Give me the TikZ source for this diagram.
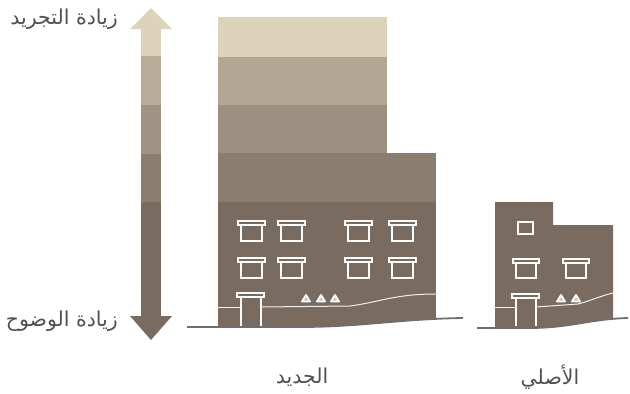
\documentclass[tikz,border=0pt]{standalone}
\usepackage{fontspec}
\usepackage{xcolor}
\setmainfont{DejaVu Sans}
\newfontfamily\arabicfont[Script=Arabic]{DejaVu Sans}
\TeXXeTstate=1
\usetikzlibrary{positioning}

\definecolor{levelA}{HTML}{DDD2BA}
\definecolor{levelB}{HTML}{B3A794}
\definecolor{levelC}{HTML}{9E9080}
\definecolor{levelD}{HTML}{8B7D70}
\definecolor{levelE}{HTML}{7A6B60}
\definecolor{groundgray}{HTML}{6E6E70}
\definecolor{labelgray}{HTML}{505050}

\begin{document}
\begin{tikzpicture}[
        x=1pt, y=-1pt,
        lbl/.style={font=\arabicfont\fontsize{20.5}{24}\selectfont, text=labelgray, inner sep=0pt},
        trim/.style={draw=white, line width=1.5pt},
        street/.style={draw=white!90!levelE, line width=1pt},
        ground/.style={draw=groundgray, line width=1.8pt},
        bump/.style={draw=white, fill=white!60!levelE, line width=1.8pt, line join=round}
    ]
    \useasboundingbox (0,0) rectangle (630,394);

    % Scale arrow
    \fill[levelA] (130,29) -- (151,8) -- (172,29) -- cycle;
    \fill[levelA] (141,29) rectangle (161,56);
    \fill[levelB!85!levelA] (141,56) rectangle (161,105);
    \fill[levelC!85!levelB] (141,105) rectangle (161,154);
    \fill[levelD] (141,154) rectangle (161,202);
    \fill[levelE] (141,202) rectangle (161,316);
    \fill[levelE] (130,316) -- (151,340) -- (172,316) -- cycle;

    \node (abstract) [lbl, anchor=east] at (118,19) {\beginR زيادة التجريد\endR};
    \node (clarity) [lbl, anchor=east] at (118,321) {\beginR زيادة الوضوح\endR};

    % New building
    \fill[levelA] (218,17) rectangle (387,57);
    \fill[levelB] (218,57) rectangle (387,105);
    \fill[levelC] (218,105) rectangle (387,153);
    \fill[levelD] (218,153) rectangle (436,202);
    \begin{scope}
        \clip (180,0) -- (180,327) -- (300,327) .. controls (360,327) and (400,319) .. (463,318) -- (463,0) -- cycle;
        \fill[levelE] (218,202) rectangle (436,335);
    \end{scope}
    \draw[ground] (187,327) -- (300,327) .. controls (360,327) and (400,319) .. (463,318);

    % Windows
    \foreach \wx in {241,281,348,392}
        \foreach \wy in {221,258} {
            \draw[trim] (\wx-3,\wy) rectangle (\wx+24,\wy+4);
            \draw[trim] (\wx,\wy+4) rectangle (\wx+21,\wy+20);
        }

    % Door and street
    \draw[street] (218,307) -- (241,307);
    \draw[street] (261,307) -- (350,306) .. controls (380,302) and (395,294) .. (436,294);
    \draw[trim] (237,293) rectangle (264,297);
    \draw[trim] (241,297) -- (241,326) (261,297) -- (261,326);
    \foreach \tx in {306,321,335}
        \draw[bump] (\tx-4,301.5) -- (\tx,295) -- (\tx+4,301.5) -- cycle;

    % Original building
    \begin{scope}
        \clip (470,0) -- (470,328) -- (530,328) .. controls (570,328) and (590,319) .. (630,318) -- (630,0) -- cycle;
        \fill[levelE] (495,202) -- (553,202) -- (553,225) -- (613,225) -- (613,335) -- (495,335) -- cycle;
    \end{scope}
    \draw[ground] (477,328) -- (530,328) .. controls (570,328) and (590,319) .. (628,318);

    \draw[trim] (518,222) rectangle (533,234);
    \foreach \wx in {516,566} {
        \draw[trim] (\wx-3,259) rectangle (\wx+23,263);
        \draw[trim] (\wx,263) rectangle (\wx+20,278);
    }
    \draw[street] (495,307) -- (516,307);
    \draw[street] (536,307) -- (578,304) .. controls (590,301) and (600,296) .. (613,293);
    \draw[trim] (512,294) rectangle (539,298);
    \draw[trim] (516,298) -- (516,326) (536,298) -- (536,326);
    \foreach \tx in {561,576}
        \draw[bump] (\tx-4,301.5) -- (\tx,295) -- (\tx+4,301.5) -- cycle;

    % Captions
    \node (newlbl) [lbl] at (302,377) {\beginR الجديد\endR};
    \node (origlbl) [lbl] at (550,377) {\beginR الأصلي\endR};

\end{tikzpicture}
\end{document}
